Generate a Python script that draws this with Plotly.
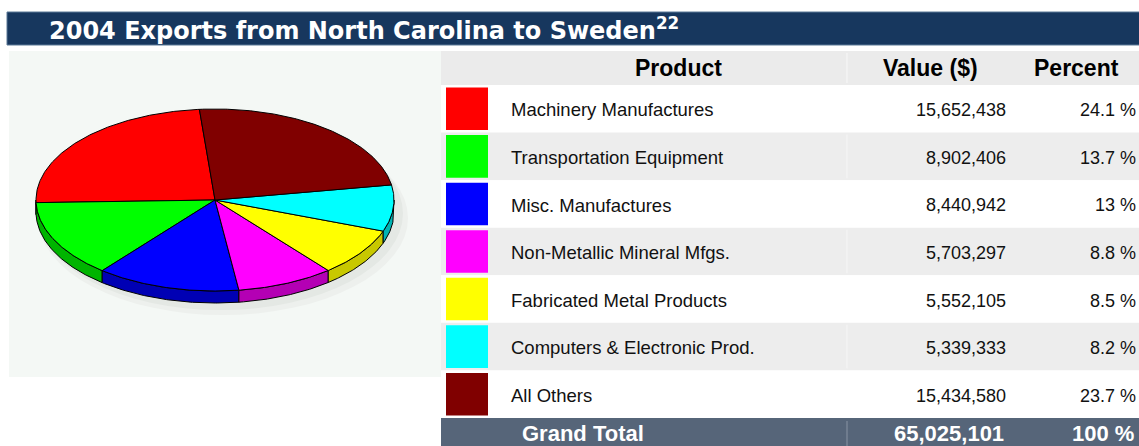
import math
import plotly.graph_objects as go

# ---------------- data ----------------
title = "2004 Exports from North Carolina to Sweden"
title_sup = "22"
products = ["Machinery Manufactures", "Transportation Equipment", "Misc. Manufactures",
            "Non-Metallic Mineral Mfgs.", "Fabricated Metal Products",
            "Computers & Electronic Prod.", "All Others"]
values = [15652438, 8902406, 8440942, 5703297, 5552105, 5339333, 15434580]
percents = ["24.1 %", "13.7 %", "13 %", "8.8 %", "8.5 %", "8.2 %", "23.7 %"]
colors = ["#FF0000", "#00FF00", "#0000FF", "#FF00FF", "#FFFF00", "#00FFFF", "#800000"]
side_colors = ["#B40000", "#00B400", "#0000B4", "#B400B4", "#C8C800", "#00B4B4", "#5A0000"]
headers = ["Product", "Value ($)", "Percent"]
total_label = "Grand Total"
total_percent = "100 %"

# ---------------- layout constants (pixel canvas) ----------------
W, H = 1139, 446
CX, CY, RX, RY, DEPTH = 215, 200, 179, 91, 12
START = 95.0  # degrees, counter-clockwise
TL, TR = 441, 1139
HEAD_TOP, HEAD_BOT = 51, 85
ROWS_BOT = 418
ROW_H = (ROWS_BOT - HEAD_BOT) / len(products)
SEP_X = 847
TEXT_DY = 3.0
BODY_FONT = "Liberation Sans, Arial, sans-serif"

fig = go.Figure()

total = sum(values)


def pt(t):
    r = math.radians(t)
    return CX + RX * math.cos(r), CY - RY * math.sin(r)


def arc(a0, a1, dy=0.0):
    n = max(2, int(abs(a1 - a0) / 0.5) + 1)
    xs, ys = [], []
    for k in range(n + 1):
        t = a0 + (a1 - a0) * k / n
        x, y = pt(t)
        xs.append(x)
        ys.append(y + dy)
    return xs, ys


# slice angles
angles = []
acc = START
for v in values:
    span = v / total * 360.0
    angles.append((acc, acc + span))
    acc += span

# sides (3D rim), visible for angles between 180 and 360
for (a0, a1), sc in zip(angles, side_colors):
    lo, hi = max(a0, 180.0), min(a1, 360.0)
    if hi - lo <= 0:
        continue
    tx, ty = arc(lo, hi)
    bx, by = arc(hi, lo, DEPTH)
    fig.add_trace(go.Scatter(x=tx + bx + [tx[0]], y=ty + by + [ty[0]], mode="lines",
                             fill="toself", fillcolor=sc,
                             line=dict(color="#000000", width=1), hoverinfo="skip"))

# top faces
for (a0, a1), c in zip(angles, colors):
    xs, ys = arc(a0, a1)
    fig.add_trace(go.Scatter(x=[CX] + xs + [CX], y=[CY] + ys + [CY], mode="lines",
                             fill="toself", fillcolor=c,
                             line=dict(color="#000000", width=1), hoverinfo="skip"))

# ---------------- table ----------------
row_centers = [HEAD_BOT + (i + 0.5) * ROW_H for i in range(len(products))]
text_y = [y + TEXT_DY for y in row_centers]
band_colors = ["#FFFFFF" if i % 2 == 0 else "#EDEDED" for i in range(len(products))]

fig.add_trace(go.Bar(orientation="h", y=row_centers, x=[TR - TL] * len(products), base=TL,
                     width=ROW_H, marker=dict(color=band_colors, line=dict(width=0)),
                     hoverinfo="skip"))
fig.add_trace(go.Bar(orientation="h", y=row_centers, x=[42] * len(products), base=446,
                     width=ROW_H - 5, marker=dict(color=colors, line=dict(width=0)),
                     hoverinfo="skip"))

fig.add_trace(go.Scatter(x=[511] * len(products), y=text_y, mode="text", text=products,
                         textposition="middle right",
                         textfont=dict(family=BODY_FONT, size=18.5, color="#111111"),
                         hoverinfo="skip"))
fig.add_trace(go.Scatter(x=[1006] * len(products), y=text_y, mode="text",
                         text=[f"{v:,}" for v in values], textposition="middle left",
                         textfont=dict(family=BODY_FONT, size=18, color="#111111"),
                         hoverinfo="skip"))
fig.add_trace(go.Scatter(x=[1136] * len(products), y=text_y, mode="text",
                         text=percents, textposition="middle left",
                         textfont=dict(family=BODY_FONT, size=18, color="#111111"),
                         hoverinfo="skip"))

shapes = [
    # title bar
    dict(type="rect", x0=7, x1=W + 2, y0=12, y1=45, fillcolor="#17375E",
         line=dict(color="#5B7896", width=1), layer="below"),
    # pie background
    dict(type="rect", x0=9, x1=TL, y0=HEAD_TOP, y1=377, fillcolor="#F4F8F5",
         line=dict(width=0), layer="below"),
    # pie shadow
    dict(type="circle", x0=CX - RX + 2, x1=CX + RX + 14, y0=CY - RY + 12, y1=CY + RY + DEPTH + 12,
         fillcolor="#EDF0ED", line=dict(width=0), layer="below"),
    dict(type="circle", x0=CX - RX + 2, x1=CX + RX + 9, y0=CY - RY + 8, y1=CY + RY + DEPTH + 7,
         fillcolor="#E4E8E4", line=dict(width=0), layer="below"),
    # header band
    dict(type="rect", x0=TL, x1=TR, y0=HEAD_TOP, y1=HEAD_BOT, fillcolor="#EBEBEB",
         line=dict(width=0), layer="below"),
    # total band
    dict(type="rect", x0=TL, x1=TR, y0=ROWS_BOT, y1=H + 10, fillcolor="#566579",
         line=dict(width=0), layer="below"),
    # separators
    dict(type="line", x0=SEP_X, x1=SEP_X, y0=HEAD_TOP + 2, y1=HEAD_BOT - 2,
         line=dict(color="#F8F8F8", width=1)),
    dict(type="line", x0=SEP_X, x1=SEP_X, y0=ROWS_BOT + 3, y1=H,
         line=dict(color="#8894A4", width=1)),
]
for i, yc in enumerate(row_centers):
    if i % 2 == 1:
        shapes.append(dict(type="line", x0=SEP_X, x1=SEP_X, y0=yc - ROW_H / 2 + 2,
                           y1=yc + ROW_H / 2 - 2, line=dict(color="#F6F6F6", width=1)))

annotations = [
    dict(x=47, y=29, xref="x", yref="y", text=f"<b>{title}<sup>{title_sup}</sup></b>",
         showarrow=False, xanchor="left", yanchor="middle",
         font=dict(family="DejaVu Sans, Verdana, sans-serif", size=24, color="#FFFFFF")),
]
header_x = [678, 930, 1076]
for hx, htxt in zip(header_x, headers):
    annotations.append(dict(x=hx, y=68, xref="x", yref="y", text=f"<b>{htxt}</b>",
                            showarrow=False, xanchor="center", yanchor="middle",
                            font=dict(family=BODY_FONT, size=23, color="#000000")))
total_y = 433
annotations += [
    dict(x=583, y=total_y, xref="x", yref="y", text=f"<b>{total_label}</b>", showarrow=False,
         xanchor="center", yanchor="middle", font=dict(family=BODY_FONT, size=22, color="#FFFFFF")),
    dict(x=1006, y=total_y, xref="x", yref="y", text=f"<b>{total:,}</b>", showarrow=False,
         xanchor="right", yanchor="middle", font=dict(family=BODY_FONT, size=22, color="#FFFFFF")),
    dict(x=1136, y=total_y, xref="x", yref="y", text=f"<b>{total_percent}</b>", showarrow=False,
         xanchor="right", yanchor="middle", font=dict(family=BODY_FONT, size=22, color="#FFFFFF")),
]

fig.update_layout(
    width=W, height=H, margin=dict(l=0, r=0, t=0, b=0),
    paper_bgcolor="#FFFFFF", plot_bgcolor="#FFFFFF",
    showlegend=False, barmode="overlay", hovermode=False,
    xaxis=dict(range=[0, W], visible=False, fixedrange=True),
    yaxis=dict(range=[H, 0], visible=False, fixedrange=True),
    shapes=shapes, annotations=annotations,
)

fig.write_html("out.html", config={"displayModeBar": False},
               post_script="document.body.style.margin='0';document.body.style.overflow='hidden';")
